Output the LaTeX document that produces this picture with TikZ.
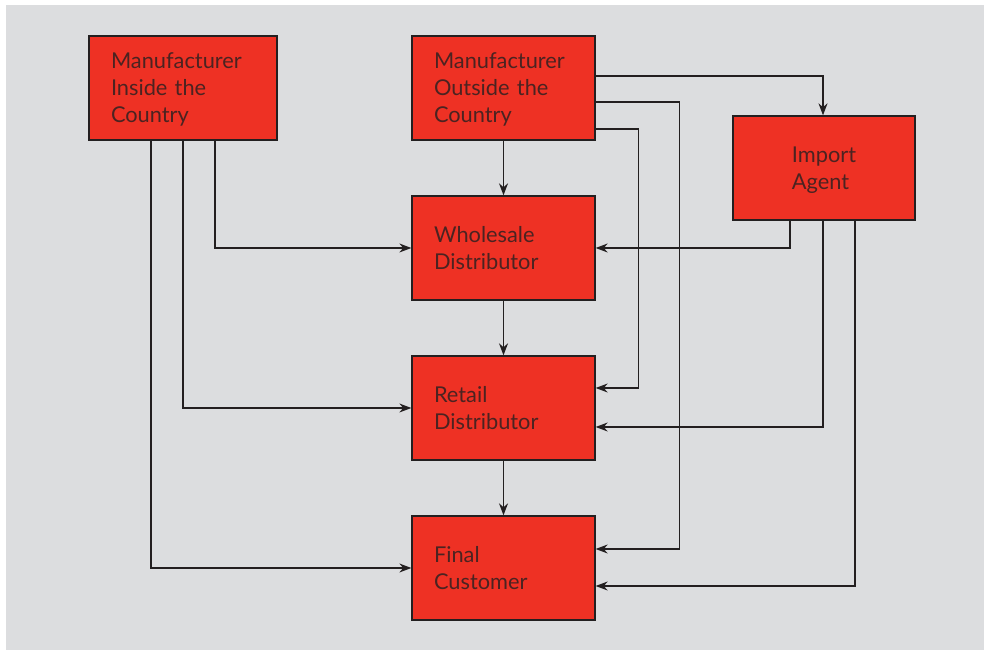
\documentclass[tikz,border=0pt]{standalone}
\usepackage{fontspec}
\setmainfont{Lato}
\usepackage{xcolor}
\usetikzlibrary{arrows.meta, calc}
\definecolor{fondo}{HTML}{DCDDDF}
\definecolor{rojo}{HTML}{EE3124}
\definecolor{tinta}{HTML}{231F20}
\newcommand{\sinprof}[1]{\raisebox{0pt}[\height][0pt]{#1}}

\begin{document}
\begin{tikzpicture}[x=1pt, y=1pt,
  every node/.style={font=\fontsize{21.8}{27}\selectfont, text=tinta!80!rojo},
  caja/.style={draw=tinta, line width=1.3pt, fill=rojo, minimum width=183pt, minimum height=104pt, inner xsep=22pt},
  flujo/.style={draw=tinta, line width=1.3pt, -{Stealth[length=12pt, width=9pt]}}]
\useasboundingbox (0,0) rectangle (984,650);
\fill[fondo] (6,0) rectangle (984,645);
% cajas
\node[caja, minimum width=188pt, text width=144pt, align=left] (mic) at (183,562) {Manufacturer\\Inside the\\\sinprof{Country}};
\node[caja, text width=139pt, align=left] (moc) at (503.5,562) {Manufacturer\\Outside the\\\sinprof{Country}};
\node[caja, minimum width=182pt, align=left, text depth=0pt] (agent) at (824,482) {Import\\Agent};
\node[caja, text width=139pt, align=left] (whole) at (503.5,402) {Wholesale\\Distributor};
\node[caja, text width=139pt, align=left] (retail) at (503.5,242) {Retail\\Distributor};
\node[caja, text width=139pt, align=left] (final) at (503.5,82) {Final\\Customer};
% desde el fabricante nacional
\draw[flujo] ([xshift=-32pt]mic.south) |- (final.west);
\draw[flujo] (mic.south) |- (retail.west);
\draw[flujo] ([xshift=32pt]mic.south) |- (whole.west);
% desde el fabricante extranjero
\draw[flujo] ([yshift=12pt]moc.east) -| ([xshift=-1pt]agent.north);
\draw[flujo] ([yshift=-14pt]moc.east) -- ++(84,0) |- ([yshift=19pt]final.east);
\draw[flujo] ([yshift=-41pt]moc.east) -- ++(43,0) |- ([yshift=20pt]retail.east);
\draw[flujo] (moc.south) -- (whole.north);
\draw[flujo] (whole.south) -- (retail.north);
\draw[flujo] (retail.south) -- (final.north);
% desde el agente importador
\draw[flujo] ([xshift=-34pt]agent.south) |- (whole.east);
\draw[flujo] ([xshift=-1pt]agent.south) |- ([yshift=-19pt]retail.east);
\draw[flujo] ([xshift=31pt]agent.south) |- ([yshift=-18pt]final.east);
\end{tikzpicture}
\end{document}
